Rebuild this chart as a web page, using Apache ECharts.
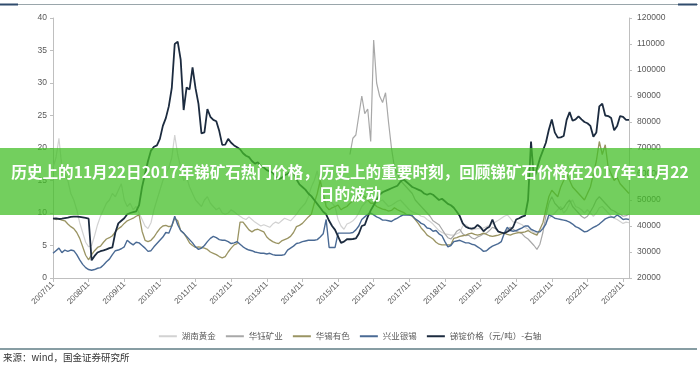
<!DOCTYPE html>
<html><head><meta charset="utf-8">
<script src="https://cdn.jsdelivr.net/npm/echarts/dist/echarts.min.js"></script>
<style>html,body{margin:0;padding:0;background:#fff}#c{width:700px;height:365px}</style>
</head><body><div id="c"></div>
<script>
// Monthly categories from 2007/11 to 2024/01
const startYear = 2007, startMonth = 11, monthCount = 195;
const categories = [];
for (let i = 0; i < monthCount; i++) {
  const t = startMonth - 1 + i;
  const y = startYear + Math.floor(t / 12), m = t % 12 + 1;
  categories.push(y + '/' + (m < 10 ? '0' + m : m));
}

const seriesNames = ['湖南黄金', '华钰矿业', '华锡有色', '兴业银锡', '锑锭价格（元/吨）-右轴'];
const leftTicks = [0, 5, 10, 15, 20, 25, 30, 35, 40];
const rightTicks = [20000, 30000, 40000, 50000, 60000, 70000, 80000, 90000, 100000, 110000, 120000];
const titleLine1 = '历史上的11月22日2017年锑矿石热门价格，历史上的重要时刻，回顾锑矿石价格在2017年11月22';
const titleLine2 = '日的波动';
const sourceText = '来源：wind，国金证券研究所';

// 湖南黄金 (left axis)
const hunanGold = [
  17,18.5,21.5,17,16,15,13,12,10.5,8.5,7.0,5.5,
  4.8,5.0,6.5,8.2,9.5,10.5,11.5,12,13,12.5,13.5,14.5,
  12,11,11.5,10.5,11,10,9,8,7.6,8.5,10.5,12,
  13.5,15,16,17,18.5,22,19,17,15,15.5,14,13,
  12,11.5,11,12,12.5,11.5,11,10.5,10.8,10,9.8,10,
  10.5,10.2,9.8,9.5,9.2,9.0,9.4,9.0,8.6,8.3,8.0,8.2,
  8.0,7.8,8.3,8.6,8.4,8.8,9.2,9.0,8.8,9.3,9.8,10.5,
  11,11.5,12.5,14,15,16.5,14,12,11.5,12,11.5,11,
  9,8.0,7.5,8.3,8.5,8.8,9.3,10,11,11.5,12,12.5,
  12,11.5,11.8,12,11.5,11,11.2,11.5,11.8,12,11.5,11,
  10.5,10.2,10,9.8,9.5,9.4,9.0,8.7,8.3,7.8,7.3,7.0,
  6.8,6.7,6.6,6.6,6.8,7.0,8.0,8.2,7.8,7.4,7.5,7.6,
  7.6,7.7,7.9,8.1,8.4,8.6,8.9,9.2,9.5,9.7,9.2,8.6,
  8.6,8.4,8.2,7.8,7.5,7.3,7.0,6.9,7.2,7.8,8.5,9.2,
  9.5,10,10.5,11,10,10.5,11.5,12,11,10.8,10.5,10,
  10.5,10,9.5,10,10.8,11,10.5,10,9.5,9.2,9.0,8.7,
  8.4,8.6,8.5
];

// 华钰矿业 (left axis), listed 2016/03
const huayuStart = '2016/03';
const huayuMining = [
  19,21.5,22,25,28,25.3,26,21,
  36.6,30,28,27,28.5,24,20,17,16,15,14.5,14,
  13.5,13,12,11.5,11,10.5,10,9.5,8.8,8.5,8.2,7.5,
  6.8,6.2,6.0,6.5,7.2,7.5,6.8,6.5,6.6,6.2,6.0,6.3,
  6.5,6.8,6.9,7.3,7.8,7.6,7.2,7.0,6.9,7.4,7.8,7.5,
  7.2,7.0,6.8,6.3,6.0,5.5,5.0,4.4,5.2,7.0,9.5,11.5,
  12.5,11.5,11,10.5,10.8,11.5,12,11,10.5,10,9.5,9.2,
  9.5,10.2,11,12,12.5,12,11.5,11,10.5,10.3,10,9.8,
  9.5,9.6,9.8
];

// 华锡有色 (left axis)
const huaxiNonferrous = [
  9.2,9.0,9.1,8.9,8.8,8.3,7.9,7.6,7.0,6.1,4.8,3.5,
  2.8,3.6,4.2,4.7,4.9,5.5,6.0,6.2,6.5,7.1,7.6,7.9,
  8.4,8.8,9.0,9.2,9.5,9.7,7.2,5.8,5.6,5.8,6.3,7.0,
  7.6,8.0,8.1,7.9,8.0,9.2,8.8,7.3,6.9,6.2,5.4,5.0,
  4.7,4.8,4.7,4.6,4.4,4.0,3.8,3.6,3.3,3.1,3.3,4.0,
  4.6,5.1,5.3,8.6,8.6,8.0,7.4,7.1,7.4,7.5,7.3,7.1,
  6.3,5.9,5.6,5.4,5.3,5.7,5.9,6.1,6.4,7.0,7.9,8.1,
  8.4,8.9,9.4,9.8,11.5,13,15,13,11,10.5,10.8,11,
  11.2,10.5,10.8,11,11.5,11.8,12,12.5,12.8,12.5,12,11.5,
  11.5,11,10.8,10.6,10.5,10.3,10.4,10.8,10.5,10.3,10.1,9.8,
  9.7,9.5,9.0,8.4,7.7,7.2,6.6,6.3,6.0,5.5,5.2,5.1,
  5.1,5.1,5.1,6.1,6.2,6.4,6.5,6.6,6.8,6.9,6.7,6.6,
  6.7,6.9,6.7,6.5,6.4,6.5,6.6,6.8,6.9,6.7,6.6,6.8,
  6.9,7.0,7.0,7.1,7.3,7.0,6.8,6.6,7.5,8.5,10.5,12.5,
  13.5,13,12.5,14,15,16,15,14,13.5,13,12.5,12,
  13,14,16,18,21,19,20.5,17,16,15,15.5,14.5,
  14,13.5,13
];

// 兴业银锡 (left axis)
const xingyeSilverTin = [
  3.8,4.2,4.6,3.9,4.3,4.1,4.3,4.2,3.6,2.8,2.1,1.6,
  1.3,1.2,1.3,1.5,1.6,2.0,2.5,2.9,3.6,4.2,4.3,4.5,
  4.8,5.8,5.4,5.1,5.5,5.4,5.0,4.6,4.1,4.2,4.8,5.3,
  5.8,6.3,7.0,6.9,8.0,9.5,8.2,7.3,6.9,6.4,5.9,5.4,
  4.8,4.4,4.6,5.0,5.6,6.1,6.4,6.2,5.9,5.8,5.8,5.6,
  5.3,5.4,5.6,5.2,4.8,4.5,4.3,4.2,4.0,3.9,3.8,3.8,
  3.7,3.8,3.6,3.5,3.5,3.5,3.6,4.3,4.6,4.9,5.3,5.4,
  5.6,5.7,5.8,5.8,5.8,5.9,6.3,6.8,9.0,4.7,4.7,4.7,
  6.9,6.9,6.9,6.9,6.9,7.0,7.4,8.0,9.0,9.4,9.8,10.0,
  9.7,9.4,9.2,8.9,8.9,8.8,8.7,9.0,9.2,9.5,9.7,9.7,
  9.7,9.6,9.1,8.8,8.4,8.2,7.7,7.6,7.2,7.3,6.8,6.5,
  5.6,4.8,5.0,5.6,5.7,5.8,5.6,5.4,5.4,5.2,5.1,4.8,
  4.5,4.1,4.2,4.6,4.9,5.1,5.3,5.6,6.9,7.8,7.3,7.2,
  7.3,7.5,7.7,8.0,8.0,7.5,7.3,7.1,7.1,7.6,8.3,9.7,
  9.5,9.2,9.1,9.0,8.9,8.8,8.6,8.3,7.9,7.7,7.4,7.1,
  7.2,7.5,7.8,8.0,8.3,8.7,9.1,9.3,9.4,9.3,9.7,9.4,
  9.0,9.1,9.0
];

// 锑锭价格（元/吨） (right axis)
const antimonyPrice = [
  42800,42900,42700,42800,43000,43200,43500,43600,43600,43500,43300,43100,
  42800,26800,28500,29800,30300,30600,31000,31500,31800,37500,41000,42000,
  43000,44500,45000,45300,45600,48000,55000,60000,65000,69000,70500,71000,
  73500,78500,81500,86000,93000,110000,110900,104000,84600,93300,92500,101000,
  93000,87000,75600,76000,85000,82000,80800,80300,76500,71200,71300,73500,
  72000,71000,70300,69500,68000,67000,66500,65000,64000,64500,63000,62500,
  61500,61000,60500,59000,58000,58500,59500,60000,61000,60500,58000,56000,
  55000,54000,52500,51500,50000,48500,47000,45500,44500,42000,40000,38500,
  36000,33500,34000,34900,34900,35000,35200,37000,40000,40400,43500,46000,
  48000,50000,52000,53000,53500,54000,54500,55000,55500,57000,58000,57000,
  56000,55000,54500,54000,53500,52500,52000,52500,52000,51000,50000,50500,
  49500,48500,48000,47000,45500,43800,41000,39700,39200,39000,39300,40400,
  39500,38000,39000,39700,42500,39500,37800,37500,37200,37800,38500,39700,
  42500,43000,43600,44000,50000,72500,58000,62000,66000,69000,72000,77000,
  81000,76000,74000,74100,74600,80800,83800,80500,81000,82200,81000,80000,
  79500,78500,74300,76000,86000,87000,82500,82300,81500,76800,78500,82300,
  82000,80800,80800
];

const colors = ['#d2d2d2', '#a8a8a8', '#9a9463', '#4a6a94', '#1c2b3f'];

// align 华钰矿业 to the month axis
const huayuFull = categories.map(function (c, i) {
  const k = i - categories.indexOf(huayuStart);
  return k >= 0 && k < huayuMining.length ? huayuMining[k] : null;
});

const axisColor = '#bfbfbf';
const labelColor = '#595959';
const fam = '"Liberation Sans", Arial, sans-serif';

function lineSeries(name, data, color, width, yIdx) {
  return {
    name: name, type: 'line', data: data, yAxisIndex: yIdx,
    showSymbol: false, symbol: 'none', color: color,
    lineStyle: { color: color, width: width }, connectNulls: false,
    emphasis: { disabled: true }, silent: true
  };
}

const chart = echarts.init(document.getElementById('c'));
chart.setOption({
  animation: false,
  grid: { left: 53, right: 71, top: 18, bottom: 87, containLabel: false, outerBoundsMode: 'none' },
  legend: {
    data: seriesNames, top: 327, left: 'center', icon: 'rect',
    itemWidth: 18, itemHeight: 2, itemGap: 10,
    textStyle: { fontSize: 8.5, color: labelColor, fontFamily: '"Noto Sans CJK SC", sans-serif' }
  },
  xAxis: {
    type: 'category', data: categories, boundaryGap: false,
    axisLine: { lineStyle: { color: axisColor } },
    axisTick: { interval: 11, length: 4, lineStyle: { color: axisColor } },
    axisLabel: { interval: 11, rotate: 45, fontSize: 8, color: labelColor, fontFamily: fam, margin: 5 },
    splitLine: { show: false }
  },
  yAxis: [
    {
      type: 'value', position: 'left', min: leftTicks[0], max: leftTicks[leftTicks.length - 1],
      interval: leftTicks[1] - leftTicks[0],
      axisLine: { show: true, lineStyle: { color: axisColor } },
      axisTick: { show: true, length: 3, lineStyle: { color: axisColor } },
      axisLabel: { fontSize: 8.5, color: labelColor, fontFamily: fam, margin: 6, formatter: function (v) { return String(v); } },
      splitLine: { show: false }
    },
    {
      type: 'value', position: 'right', min: rightTicks[0], max: rightTicks[rightTicks.length - 1],
      interval: rightTicks[1] - rightTicks[0],
      axisLine: { show: true, lineStyle: { color: axisColor } },
      axisTick: { show: true, length: 3, lineStyle: { color: axisColor } },
      axisLabel: { fontSize: 8.5, color: labelColor, fontFamily: fam, margin: 8, formatter: function (v) { return String(v); } },
      splitLine: { show: false }
    }
  ],
  series: [
    lineSeries(seriesNames[0], hunanGold, colors[0], 1.2, 0),
    lineSeries(seriesNames[1], huayuFull, colors[1], 1.2, 0),
    lineSeries(seriesNames[2], huaxiNonferrous, colors[2], 1.3, 0),
    lineSeries(seriesNames[3], xingyeSilverTin, colors[3], 1.4, 0),
    lineSeries(seriesNames[4], antimonyPrice, colors[4], 1.8, 1)
  ],
  graphic: [
    { type: 'line', z: 100, shape: { x1: 0, y1: 4.5, x2: 698, y2: 4.5 }, style: { stroke: '#9aa6ab', lineWidth: 1 } },
    { type: 'line', z: 101, shape: { x1: 0, y1: 4.5, x2: 18, y2: 4.5 }, style: { stroke: '#2f4b6c', lineWidth: 2 } },
    { type: 'line', z: 101, shape: { x1: 678, y1: 4.5, x2: 697, y2: 4.5 }, style: { stroke: '#2f4b6c', lineWidth: 2 } },
    { type: 'line', z: 100, shape: { x1: 0, y1: 349, x2: 697, y2: 349 }, style: { stroke: '#5f7d84', lineWidth: 1.5 } },
    { type: 'text', z: 100, style: { text: sourceText, x: 3, y: 357, textVerticalAlign: 'middle', fill: '#333', font: '9.5px "Noto Sans CJK SC", sans-serif' } },
    { type: 'rect', z: 200, shape: { x: 0, y: 148, width: 700, height: 67 }, style: { fill: 'rgba(68,191,40,0.75)' } },
    { type: 'text', z: 201, style: { text: titleLine1, x: 350, y: 172, textAlign: 'center', textVerticalAlign: 'middle', fill: '#fff', font: 'bold 15.6px "Noto Sans CJK SC", sans-serif' } },
    { type: 'text', z: 201, style: { text: titleLine2, x: 350, y: 194, textAlign: 'center', textVerticalAlign: 'middle', fill: '#fff', font: 'bold 15.6px "Noto Sans CJK SC", sans-serif' } }
  ]
});
</script></body></html>
